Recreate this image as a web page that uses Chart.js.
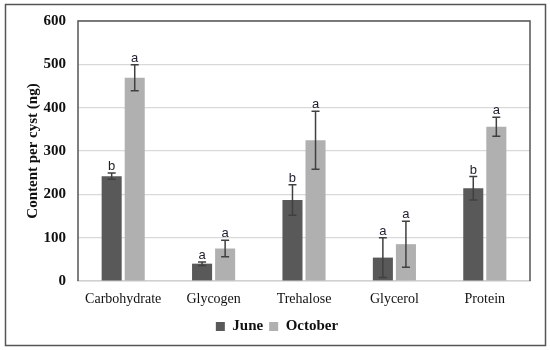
<!DOCTYPE html>
<html>
<head>
<meta charset="utf-8">
<script src="https://cdn.jsdelivr.net/npm/chart.js@4"></script>
<style>
  html, body { margin: 0; padding: 0; background: #fff; }
  #wrap { width: 550px; height: 350px; position: relative; }
</style>
</head>
<body>
<div id="wrap"><canvas id="chart" width="550" height="350"></canvas></div>
<script>
// data
const categories = ['Carbohydrate', 'Glycogen', 'Trehalose', 'Glycerol', 'Protein'];
const juneValues = [242, 40, 187, 54, 214];
const juneErrors = [7, 4, 35, 46, 27];
const octoberValues = [469, 75, 325, 85, 356];
const octoberErrors = [30, 19, 67, 53, 22];
const juneLetters = ['b', 'a', 'b', 'a', 'b'];
const octoberLetters = ['a', 'a', 'a', 'a', 'a'];
const yTicks = [0, 100, 200, 300, 400, 500, 600];

const serif = '"Liberation Serif", "Times New Roman", serif';

// error bars + significance letters
const errorBarPlugin = {
    id: 'errorBars',
    afterDatasetsDraw(chart) {
        const ctx = chart.ctx;
        const y = chart.scales.y;
        const sets = [
            { errs: juneErrors, letters: juneLetters },
            { errs: octoberErrors, letters: octoberLetters }
        ];
        ctx.save();
        sets.forEach((s, di) => {
            const meta = chart.getDatasetMeta(di);
            const vals = chart.data.datasets[di].data;
            meta.data.forEach((bar, i) => {
                const hi = y.getPixelForValue(vals[i] + s.errs[i]);
                const lo = y.getPixelForValue(vals[i] - s.errs[i]);
                ctx.strokeStyle = '#404040';
                ctx.lineWidth = 1.5;
                ctx.beginPath();
                ctx.moveTo(bar.x, hi);
                ctx.lineTo(bar.x, lo);
                ctx.moveTo(bar.x - 4, hi);
                ctx.lineTo(bar.x + 4, hi);
                ctx.moveTo(bar.x - 4, lo);
                ctx.lineTo(bar.x + 4, lo);
                ctx.stroke();
                ctx.fillStyle = '#1e1e2e';
                ctx.font = '13px "Liberation Sans", Arial, sans-serif';
                ctx.textAlign = 'center';
                ctx.textBaseline = 'alphabetic';
                ctx.fillText(s.letters[i], bar.x, hi - 3);
            });
        });
        ctx.restore();
    }
};

// outer frame and plot frame
const framePlugin = {
    id: 'frames',
    afterDraw(chart) {
        const ctx = chart.ctx;
        const a = chart.chartArea;
        ctx.save();
        ctx.strokeStyle = '#555';
        ctx.lineWidth = 1.5;
        ctx.strokeRect(5.5, 4.5, 540, 341);
        ctx.beginPath();
        ctx.moveTo(a.left, a.bottom);
        ctx.lineTo(a.left, a.top);
        ctx.lineTo(a.right, a.top);
        ctx.lineTo(a.right, a.bottom);
        ctx.stroke();
        ctx.restore();
    }
};

new Chart(document.getElementById('chart'), {
    type: 'bar',
    data: {
        labels: categories,
        datasets: [
            { label: 'June', data: juneValues, backgroundColor: '#595959' },
            { label: 'October', data: octoberValues, backgroundColor: '#b0b0b0' }
        ]
    },
    options: {
        responsive: false,
        animation: false,
        layout: { padding: { top: 20, right: 20, left: 24, bottom: 6 } },
        datasets: {
            bar: { barPercentage: 0.87, categoryPercentage: 0.51 }
        },
        plugins: {
            tooltip: { enabled: false },
            legend: {
                position: 'bottom',
                labels: {
                    boxWidth: 9,
                    boxHeight: 9,
                    padding: 6,
                    color: '#111',
                    font: { family: serif, size: 15, weight: 'bold' }
                }
            }
        },
        scales: {
            x: {
                grid: { display: false },
                border: { color: '#d0d0d0', width: 1.5 },
                ticks: { color: '#111', padding: 2, font: { family: serif, size: 14 } },
                afterFit(scale) { scale.height = 32; }
            },
            y: {
                min: 0,
                max: 600,
                afterBuildTicks(scale) { scale.ticks = yTicks.map(v => ({ value: v })); },
                grid: { color: '#d9d9d9', lineWidth: 1.2, drawTicks: false },
                border: { display: false },
                ticks: { color: '#111', padding: 12, font: { family: serif, size: 15, weight: 'bold' } },
                title: {
                    display: true,
                    text: 'Content per cyst (ng)',
                    color: '#111',
                    padding: { top: 0, bottom: 0 },
                    font: { family: serif, size: 15, weight: 'bold' }
                },
                afterFit(scale) { scale.width = 54; }
            }
        }
    },
    plugins: [errorBarPlugin, framePlugin]
});
</script>
</body>
</html>
